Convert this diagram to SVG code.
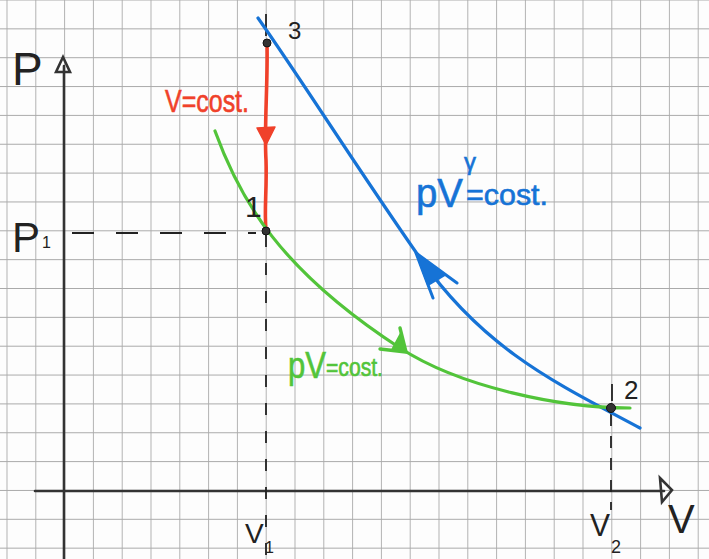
<svg xmlns="http://www.w3.org/2000/svg" width="709" height="559" viewBox="0 0 709 559">
  <defs>
    <pattern id="grid" x="6.5" y="-0.5" width="28.8" height="28.85" patternUnits="userSpaceOnUse">
      <path d="M0,0 H28.8 M0,0 V28.85" fill="none" stroke="#aaaaaa" stroke-width="1.8"/>
    </pattern>
  </defs>
  <style>
    .hand { font-family: "Liberation Sans", "DejaVu Sans", sans-serif; }
    .ink { fill: #222; }
    .axis { stroke: #333; stroke-width: 2.6; fill: none; stroke-linecap: round; }
    .dash { stroke: #222; stroke-width: 1.8; fill: none; }
    .pt { fill: #333; stroke: #111; stroke-width: 1; }
    .red { fill: #f0412a; stroke: #f0412a; stroke-width: 0.6; }
    .blue { fill: #1673d6; stroke: #1673d6; stroke-width: 0.6; }
    .green { fill: #52c43a; stroke: #52c43a; stroke-width: 0.6; }
  </style>
  <rect width="709" height="559" fill="#fdfdfd"/>
  <rect width="709" height="559" fill="url(#grid)"/>

  <g id="axes">
    <path class="axis" d="M64,559 V66"/>
    <path class="axis" d="M56,72 L63,57 L70,72 Z"/>
    <path class="axis" d="M35,491 H664"/>
    <path class="axis" d="M660,478 L672,490 L662,502 Z"/>
    <text class="hand ink" x="12" y="85" font-size="46">P</text>
    <text class="hand ink" x="12" y="252" font-size="42">P</text>
    <text class="hand ink" x="42" y="248" font-size="16">1</text>
    <text class="hand ink" x="668" y="533" font-size="40">V</text>
    <text class="hand ink" x="245" y="543" font-size="28">V</text>
    <text class="hand ink" x="265" y="553" font-size="16">1</text>
    <text class="hand ink" x="590" y="536" font-size="32" textLength="20" lengthAdjust="spacingAndGlyphs">V</text>
    <text class="hand ink" x="611" y="553" font-size="18">2</text>
  </g>

  <g id="guides">
    <path class="dash" d="M266,14 V36" />
    <path class="dash" d="M266,235 V559" stroke-dasharray="12 16"/>
    <path class="dash" d="M72,233 H256" stroke-dasharray="22 22"/>
    <path class="dash" d="M612,384 V401"/>
    <path class="dash" d="M611,414 V510" stroke-dasharray="12 10"/>
  </g>

  <g id="connectors" fill="none" stroke-linecap="round">
    <path id="isochoric" d="M267,44 C268,80 264,130 266,160 C267,190 264,210 266,230" stroke="#f0412a" stroke-width="3.6"/>
    <path d="M257,128 L275,127 L266,145 Z" fill="#f0412a" stroke="#f0412a" stroke-width="1.5" stroke-linejoin="round"/>
    <path id="adiabatic" d="M258,18 C305,85 355,165 420,258 S560,385 640,428" stroke="#1673d6" stroke-width="3.2"/>
    <path d="M433,298 L416,253 L457,283" stroke="#1673d6" stroke-width="3" stroke-linejoin="round"/>
    <path d="M428,285 L417,255 L445,275 Z" fill="#1673d6" stroke="#1673d6" stroke-width="2"/>
    <path id="isothermal" d="M215,131 C240,200 280,270 400,348 C460,387 560,408 630,408" stroke="#52c43a" stroke-width="3.2"/>
    <path d="M380,349 L406,352 L400,328" stroke="#52c43a" stroke-width="3.4" stroke-linejoin="round"/>
    <path d="M392,350 L406,352 L400,335 Z" fill="#52c43a" stroke="#52c43a" stroke-width="2"/>
  </g>

  <g id="state3">
    <circle class="pt" cx="267" cy="43" r="4"/>
    <text class="hand ink" x="288" y="39" font-size="24">3</text>
  </g>
  <g id="state1">
    <circle class="pt" cx="266" cy="231" r="4"/>
    <text class="hand ink" x="245" y="217" font-size="30">1</text>
  </g>
  <g id="state2">
    <circle class="pt" cx="611" cy="408" r="4.5"/>
    <text class="hand ink" x="624" y="399" font-size="26">2</text>
  </g>

  <g id="labels">
    <text class="hand red" x="165" y="112" font-size="31" textLength="84" lengthAdjust="spacingAndGlyphs">V=cost.</text>
    <text class="hand blue" x="416" y="207" font-size="40" textLength="47" lengthAdjust="spacingAndGlyphs">pV</text>
    <text class="hand blue" x="464" y="170" font-size="24">γ</text>
    <text class="hand blue" x="466" y="205" font-size="30" textLength="82" lengthAdjust="spacingAndGlyphs">=cost.</text>
    <text class="hand green" x="288" y="378" font-size="36" textLength="38" lengthAdjust="spacingAndGlyphs">pV</text>
    <text class="hand green" x="326" y="376" font-size="26" textLength="57" lengthAdjust="spacingAndGlyphs">=cost.</text>
  </g>
</svg>
